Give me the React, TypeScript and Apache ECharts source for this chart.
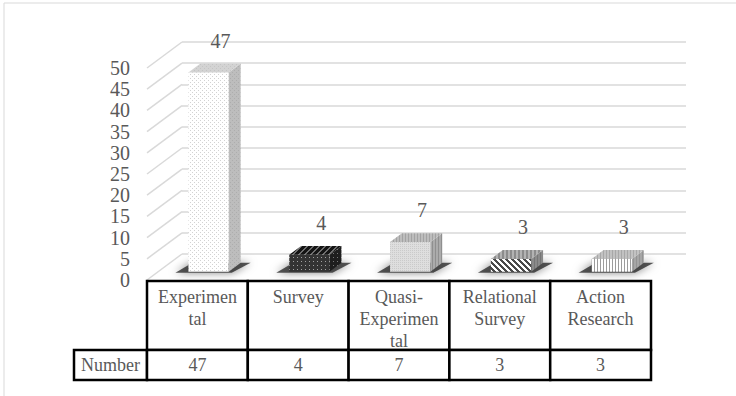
import React, { useEffect, useRef } from "react";
import * as echarts from "echarts";

// Research designs and how many studies used each
const categories = ["Experimental", "Survey", "Quasi-Experimental", "Relational Survey", "Action Research"];
const cellLabels = ["Experimen\ntal", "Survey", "Quasi-\nExperimen\ntal", "Relational\nSurvey", "Action\nResearch"];
const counts = [47, 4, 7, 3, 3];
const seriesName = "Number";

// Value axis
const yMin = 0;
const yMax = 50;
const yInterval = 5;
const yTicks = [0, 5, 10, 15, 20, 25, 30, 35, 40, 45, 50];

// Layout of the pseudo-3D plot
const FRONT = { left: 147, top: 68, width: 504, height: 212 };
const DEPTH_X = 35; // back wall offset
const DEPTH_Y = -26;
const F0 = 0.32; // bar front depth fraction
const F1 = 0.66; // bar back depth fraction
const BAR_WIDTH = 0.4;

const TEXT = "#595959";
const GRID = "#d9d9d9";
const SERIF = "'Liberation Serif', 'Times New Roman', serif";

type PixelFn = (x: number, y: number) => string | null;

function makePattern(size: number, bg: string, fn: PixelFn) {
  const c = document.createElement("canvas");
  c.width = size;
  c.height = size;
  const ctx = c.getContext("2d")!;
  ctx.fillStyle = bg;
  ctx.fillRect(0, 0, size, size);
  for (let y = 0; y < size; y++) {
    for (let x = 0; x < size; x++) {
      const col = fn(x, y);
      if (col) {
        ctx.fillStyle = col;
        ctx.fillRect(x, y, 1, 1);
      }
    }
  }
  return { image: c, repeat: "repeat", imageWidth: size, imageHeight: size } as any;
}

const mod = (a: number, n: number) => ((a % n) + n) % n;

function buildSkins() {
  return [
    {
      front: makePattern(4, "#ffffff", (x, y) => ((x === 0 && y === 0) || (x === 2 && y === 2) ? "#d2d2d2" : null)),
      top: makePattern(4, "#d3d3d3", (x, y) => ((x === 0 && y === 0) || (x === 2 && y === 2) ? "#c4c4c4" : null)),
      side: makePattern(4, "#bdbdbd", (x, y) => ((x === 0 && y === 0) || (x === 2 && y === 2) ? "#adadad" : null)),
    },
    {
      front: makePattern(4, "#333333", (x, y) => (x === 1 && y === 1 ? "#a0a0a0" : null)),
      top: makePattern(6, "#141414", (x, y) => (mod(x + y, 6) < 2 ? "#6e6e6e" : null)),
      side: makePattern(4, "#1e1e1e", (x, y) => (x === 1 && y === 1 ? "#777777" : null)),
    },
    {
      front: makePattern(4, "#dedede", (x, y) => (mod(x + y, 2) === 0 && y % 2 === 0 ? "#cacaca" : null)),
      top: makePattern(3, "#bdbdbd", (x) => (x === 0 ? "#a3a3a3" : null)),
      side: makePattern(3, "#ababab", (x) => (x === 0 ? "#8f8f8f" : null)),
    },
    {
      front: makePattern(6, "#ffffff", (x, y) => (mod(x - y, 6) < 3 ? "#4a4a4a" : null)),
      top: makePattern(4, "#8c8c8c", (x) => (x % 4 < 2 ? "#b3b3b3" : null)),
      side: makePattern(3, "#8a8a8a", (x) => (x === 0 ? "#767676" : null)),
    },
    {
      front: makePattern(3, "#ffffff", (x) => (x === 0 ? "#9c9c9c" : null)),
      top: makePattern(3, "#c2c2c2", (x) => (x === 0 ? "#a8a8a8" : null)),
      side: makePattern(3, "#a6a6a6", (x) => (x === 0 ? "#939393" : null)),
    },
  ];
}

export default function App() {
  const ref = useRef<HTMLDivElement>(null);

  useEffect(() => {
    if (!ref.current) return;
    const chart = echarts.init(ref.current, undefined, { renderer: "svg" });
    const skins = buildSkins();
    const barData = counts.map((v, i) => [i, v]);
    const tickData = yTicks.map((t) => [0, t]);

    const option: any = {
      animation: false,
      backgroundColor: "#ffffff",
      grid: [
        { ...FRONT },
        {
          left: FRONT.left + DEPTH_X,
          top: FRONT.top + DEPTH_Y,
          width: FRONT.width,
          height: FRONT.height,
        },
      ],
      xAxis: [
        { type: "category", data: categories, gridIndex: 0, show: false },
        { type: "category", data: categories, gridIndex: 1, show: false },
      ],
      yAxis: [
        {
          type: "value",
          gridIndex: 0,
          min: yMin,
          max: yMax,
          interval: yInterval,
          axisLine: { show: false },
          axisTick: { show: false },
          splitLine: { show: false },
          axisLabel: {
            color: TEXT,
            fontSize: 20,
            fontFamily: SERIF,
            margin: 17,
          },
        },
        {
          type: "value",
          gridIndex: 1,
          min: yMin,
          max: yMax,
          interval: yInterval,
          axisLine: { show: false },
          axisTick: { show: false },
          axisLabel: { show: false },
          splitLine: { show: true, lineStyle: { color: GRID, width: 1.5 } },
        },
      ],
      graphic: [
        {
          type: "rect",
          z: -10,
          shape: { x: 4, y: 3, width: 760, height: 420 },
          style: { fill: "none", stroke: GRID, lineWidth: 1 },
        },
        {
          type: "rect",
          z: 100,
          shape: { x: 74, y: 350, width: FRONT.left - 74, height: 30 },
          style: { fill: "#ffffff", stroke: "#000000", lineWidth: 2.5 },
        },
        {
          type: "text",
          z: 101,
          style: {
            text: seriesName,
            x: (74 + FRONT.left) / 2,
            y: 365,
            align: "center",
            verticalAlign: "middle",
            fill: TEXT,
            font: `18px ${SERIF}`,
          },
        },
      ],
      series: [
        // side wall lines joining front scale to back wall gridlines
        {
          type: "custom",
          xAxisIndex: 0,
          yAxisIndex: 0,
          data: tickData,
          z: 1,
          silent: true,
          renderItem: (params: any, api: any) => {
            const y = api.coord([0, api.value(1)])[1];
            const x = params.coordSys.x;
            return {
              type: "line",
              shape: { x1: x, y1: y, x2: x + DEPTH_X, y2: y + DEPTH_Y },
              style: { stroke: GRID, lineWidth: 1.5 },
            };
          },
        },
        // 3D bars
        {
          type: "custom",
          name: seriesName,
          xAxisIndex: 0,
          yAxisIndex: 0,
          data: barData,
          z: 5,
          renderItem: (params: any, api: any) => {
            const idx = api.value(0);
            const v = api.value(1);
            const [cx, y0] = api.coord([idx, 0]);
            const yTop = api.coord([idx, v])[1];
            const band = api.size([1, 0])[0];
            const hw = (band * BAR_WIDTH) / 2;
            const ax = DEPTH_X * F0;
            const ay = DEPTH_Y * F0;
            const bx = DEPTH_X * F1;
            const by = DEPTH_Y * F1;
            const xl = cx - hw;
            const xr = cx + hw;
            const skin = skins[idx];
            return {
              type: "group",
              children: [
                {
                  type: "polygon",
                  shape: {
                    points: [
                      [xl + ax - 13, y0 + ay + 1],
                      [xr + ax + 3, y0 + ay + 1],
                      [xr + bx + 10, y0 + by],
                      [xl + bx - 8, y0 + by],
                    ],
                  },
                  style: {
                    fill: "rgba(45,45,45,0.8)",
                    shadowBlur: 9,
                    shadowColor: "rgba(0,0,0,0.6)",
                  },
                },
                {
                  type: "polygon",
                  shape: {
                    points: [
                      [xl + ax, y0 + ay],
                      [xr + ax, y0 + ay],
                      [xr + ax, yTop + ay],
                      [xl + ax, yTop + ay],
                    ],
                  },
                  style: { fill: skin.front },
                },
                {
                  type: "polygon",
                  shape: {
                    points: [
                      [xr + ax, y0 + ay],
                      [xr + bx, y0 + by],
                      [xr + bx, yTop + by],
                      [xr + ax, yTop + ay],
                    ],
                  },
                  style: { fill: skin.side },
                },
                {
                  type: "polygon",
                  shape: {
                    points: [
                      [xl + ax, yTop + ay],
                      [xr + ax, yTop + ay],
                      [xr + bx, yTop + by],
                      [xl + bx, yTop + by],
                    ],
                  },
                  style: { fill: skin.top },
                },
                {
                  type: "text",
                  style: {
                    text: String(v),
                    x: cx + bx,
                    y: yTop + by - 13,
                    align: "center",
                    verticalAlign: "bottom",
                    fill: TEXT,
                    font: `20px ${SERIF}`,
                  },
                },
              ],
            };
          },
        },
        // data table beneath the plot
        {
          type: "custom",
          xAxisIndex: 0,
          yAxisIndex: 0,
          data: barData,
          z: 100,
          silent: true,
          renderItem: (params: any, api: any) => {
            const idx = api.value(0);
            const v = api.value(1);
            const [cx, y0] = api.coord([idx, 0]);
            const band = api.size([1, 0])[0];
            const top = y0 + 1;
            const mid = top + 69;
            const bottom = mid + 30;
            return {
              type: "group",
              children: [
                {
                  type: "rect",
                  shape: { x: cx - band / 2, y: top, width: band, height: mid - top },
                  style: { fill: "#ffffff", stroke: "#000000", lineWidth: 2.5 },
                },
                {
                  type: "text",
                  style: {
                    text: cellLabels[idx],
                    x: cx,
                    y: top + 5,
                    align: "center",
                    verticalAlign: "top",
                    lineHeight: 22,
                    fill: TEXT,
                    font: `18px ${SERIF}`,
                  },
                },
                {
                  type: "rect",
                  shape: { x: cx - band / 2, y: mid, width: band, height: bottom - mid },
                  style: { fill: "#ffffff", stroke: "#000000", lineWidth: 2.5 },
                },
                {
                  type: "text",
                  style: {
                    text: String(v),
                    x: cx,
                    y: (mid + bottom) / 2,
                    align: "center",
                    verticalAlign: "middle",
                    fill: TEXT,
                    font: `18px ${SERIF}`,
                  },
                },
              ],
            };
          },
        },
      ],
    };

    chart.setOption(option);
    return () => chart.dispose();
  }, []);

  return (
    <div
      ref={ref}
      style={{ position: "fixed", left: 0, top: 0, width: 736, height: 396, background: "#ffffff" }}
    />
  );
}
